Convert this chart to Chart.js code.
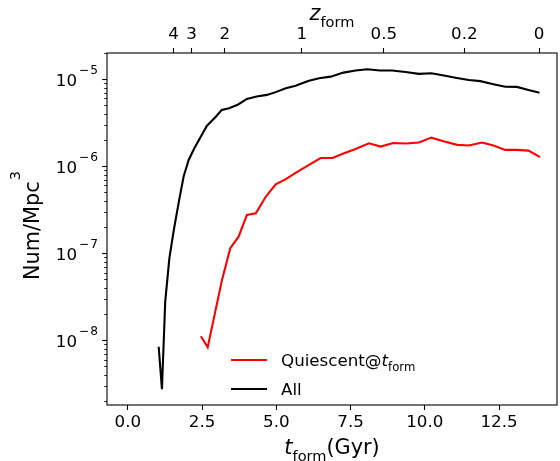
<!DOCTYPE html>
<html><head><meta charset="utf-8">
<script src="https://cdn.jsdelivr.net/npm/chart.js@4"></script>
<style>html,body{margin:0;padding:0;background:#fff}canvas{display:block}</style>
</head><body>
<canvas id="c" width="560" height="461"></canvas>
<script>
// ---- data ----
const tAll = [1.04,1.15,1.26,1.40,1.55,1.73,1.88,2.05,2.24,2.66,2.97,3.16,3.41,3.70,4.01,4.34,4.68,4.98,5.32,5.65,6.07,6.44,6.83,7.26,7.67,8.06,8.49,8.90,9.35,9.80,10.22,10.64,11.03,11.48,11.87,12.31,12.71,13.10,13.49,13.86];
const nAll = [8.4e-9,2.73e-9,2.78e-8,8.8e-8,1.85e-7,4.1e-7,7.6e-7,1.18e-6,1.61e-6,2.9e-6,3.72e-6,4.43e-6,4.64e-6,5.09e-6,5.94e-6,6.31e-6,6.6e-6,7.1e-6,7.88e-6,8.4e-6,9.55e-6,1.026e-5,1.07e-5,1.19e-5,1.26e-5,1.30e-5,1.26e-5,1.26e-5,1.21e-5,1.15e-5,1.17e-5,1.10e-5,1.04e-5,9.8e-6,9.5e-6,8.77e-6,8.2e-6,8.15e-6,7.5e-6,7.0e-6];
const tQ = [2.46,2.69,3.17,3.45,3.73,4.01,4.31,4.65,4.98,5.32,5.65,6.10,6.49,6.89,7.28,7.67,8.12,8.51,8.94,9.38,9.80,10.22,10.66,11.09,11.48,11.93,12.31,12.71,13.10,13.49,13.88];
const nQ = [1.11e-8,8.3e-9,4.9e-8,1.14e-7,1.55e-7,2.75e-7,2.88e-7,4.48e-7,6.2e-7,7.1e-7,8.4e-7,1.035e-6,1.24e-6,1.24e-6,1.41e-6,1.58e-6,1.83e-6,1.68e-6,1.85e-6,1.82e-6,1.87e-6,2.13e-6,1.92e-6,1.76e-6,1.73e-6,1.87e-6,1.73e-6,1.54e-6,1.54e-6,1.51e-6,1.27e-6];
const xTickValues = [0, 2.5, 5, 7.5, 10, 12.5];
const zTickT = [1.545, 2.15, 3.27, 5.86, 8.62, 11.33, 13.85];
const zTickLabels = ['4', '3', '2', '1', '0.5', '0.2', '0'];
const yExponents = [-8, -7, -6, -5];
const seriesLabels = ['Quiescent@', 'All'];

const FONT = "'DejaVu Sans'";
Chart.defaults.font.family = FONT;
Chart.defaults.color = '#000';

const toXY = (ts, ns) => ts.map((t, i) => ({x: t, y: ns[i]}));

const decor = {
  id: 'decor',
  afterDraw(chart) {
    const ctx = chart.ctx, a = chart.chartArea, y = chart.scales.y;
    ctx.save();
    // frame
    ctx.strokeStyle = '#000'; ctx.lineWidth = 1.1;
    ctx.strokeRect(a.left, a.top, a.right - a.left, a.bottom - a.top);
    // y ticks (major + minor)
    for (let e = -10; e <= -4; e++) {
      for (let m = 1; m <= 9; m++) {
        const v = m * Math.pow(10, e);
        if (v < y.min || v > y.max) continue;
        const py = Math.round(y.getPixelForValue(v)) + 0.5;
        ctx.lineWidth = m === 1 ? 1.1 : 0.85;
        const len = m === 1 ? 4.9 : 2.8;
        ctx.beginPath(); ctx.moveTo(a.left, py); ctx.lineTo(a.left - len, py); ctx.stroke();
      }
    }
    // y tick labels 10^e
    ctx.fillStyle = '#000';
    ctx.textBaseline = 'alphabetic';
    ctx.textAlign = 'left';
    yExponents.forEach(e => {
      const py = y.getPixelForValue(Math.pow(10, e));
      const right = a.left - 9;
      ctx.font = '12.2px ' + FONT;
      const wd = ctx.measureText(String(Math.abs(e))).width;
      const wm = ctx.measureText('\u2212').width;
      const xd = right - wd;
      const xm = xd - 1 - wm;
      ctx.fillText(String(Math.abs(e)), xd, py - 5);
      ctx.fillText('\u2212', xm, py - 5);
      ctx.font = '16.7px ' + FONT;
      const wb = ctx.measureText('10').width;
      ctx.fillText('10', xm - 2 - wb, py + 6.5);
    });
    // y title
    ctx.save();
    const cy = (a.top + a.bottom) / 2;
    ctx.translate(39, cy - 3);
    ctx.rotate(-Math.PI / 2);
    ctx.font = '20.8px ' + FONT;
    const w1 = ctx.measureText('Num/Mpc').width;
    ctx.font = '14.6px ' + FONT;
    const w2 = ctx.measureText('3').width;
    const x0 = -(w1 + w2) / 2;
    ctx.font = '20.8px ' + FONT;
    ctx.fillText('Num/Mpc', x0, 0);
    ctx.font = '14.6px ' + FONT;
    ctx.fillText('3', x0 + w1 + 1, -19);
    ctx.restore();
    // helper for "t_form"-style text
    function subText(main, sub, after, cx, base, size, italic) {
      const ss = size * 0.7, off = size * 0.32;
      ctx.font = (italic ? 'italic ' : '') + size + 'px ' + FONT;
      const wm = ctx.measureText(main).width;
      ctx.font = ss + 'px ' + FONT;
      const wsub = ctx.measureText(sub).width;
      ctx.font = size + 'px ' + FONT;
      const wa = after ? ctx.measureText(after).width : 0;
      let x = cx - (wm + wsub + wa) / 2;
      ctx.textAlign = 'left';
      ctx.font = (italic ? 'italic ' : '') + size + 'px ' + FONT;
      ctx.fillText(main, x, base); x += wm;
      ctx.font = ss + 'px ' + FONT;
      ctx.fillText(sub, x, base + off); x += wsub;
      if (after) { ctx.font = size + 'px ' + FONT; ctx.fillText(after, x, base); }
    }
    const cx = (a.left + a.right) / 2;
    subText('t', 'form', '(Gyr)', cx, 454, 20.8, true);
    subText('z', 'form', '', cx, 20, 20.8, true);
    // legend
    const items = [
      {ds: chart.data.datasets[0], y: 360, sub: true},
      {ds: chart.data.datasets[1], y: 389, sub: false}
    ];
    items.forEach(it => {
      ctx.strokeStyle = it.ds.borderColor; ctx.lineWidth = 2.1;
      ctx.beginPath(); ctx.moveTo(231, it.y); ctx.lineTo(267, it.y); ctx.stroke();
      ctx.fillStyle = '#000';
      ctx.font = '16.7px ' + FONT; ctx.textAlign = 'left';
      let x = 281;
      ctx.fillText(it.ds.label, x, it.y + 6);
      x += ctx.measureText(it.ds.label).width;
      if (it.sub) {
        ctx.font = 'italic 16.7px ' + FONT;
        ctx.fillText('t', x, it.y + 6);
        x += ctx.measureText('t').width;
        ctx.font = '11.7px ' + FONT;
        ctx.fillText('form', x, it.y + 6 + 5.3);
      }
    });
    ctx.restore();
  }
};

new Chart(document.getElementById('c'), {
  type: 'line',
  data: {
    datasets: [
      {label: seriesLabels[0], data: toXY(tQ, nQ), borderColor: '#ff0000', borderWidth: 2.1, pointRadius: 0, tension: 0, fill: false},
      {label: seriesLabels[1], data: toXY(tAll, nAll), borderColor: '#000000', borderWidth: 2.1, pointRadius: 0, tension: 0, fill: false}
    ]
  },
  options: {
    responsive: false,
    animation: false,
    devicePixelRatio: 1,
    layout: {padding: {left: 0, right: 3, top: 0, bottom: 0}},
    plugins: {legend: {display: false}, tooltip: {enabled: false}},
    scales: {
      x: {
        type: 'linear', position: 'bottom', min: -0.7, max: 14.45,
        afterBuildTicks: s => { s.ticks = xTickValues.map(v => ({value: v})); },
        afterFit: s => { s.height = 56; },
        ticks: {callback: v => Number(v).toFixed(1), font: {size: 16.7}, color: '#000', padding: 3, maxRotation: 0, autoSkip: false},
        grid: {drawOnChartArea: false, drawTicks: true, tickLength: 5, tickColor: '#000', tickWidth: 1.1},
        border: {display: false}
      },
      xTop: {
        type: 'linear', position: 'top', min: -0.7, max: 14.45,
        afterBuildTicks: s => { s.ticks = zTickT.map(v => ({value: v})); },
        afterFit: s => { s.height = 53; },
        ticks: {callback: (v, i) => zTickLabels[i], font: {size: 16.7}, color: '#000', padding: 3, maxRotation: 0, autoSkip: false},
        grid: {drawOnChartArea: false, drawTicks: true, tickLength: 5, tickColor: '#000', tickWidth: 1.1},
        border: {display: false}
      },
      y: {
        type: 'logarithmic', position: 'left', min: 1.8e-9, max: 2.0e-5,
        afterFit: s => { s.width = 107; },
        ticks: {display: false},
        grid: {display: false},
        border: {display: false}
      }
    }
  },
  plugins: [decor]
});
</script>
</body></html>
